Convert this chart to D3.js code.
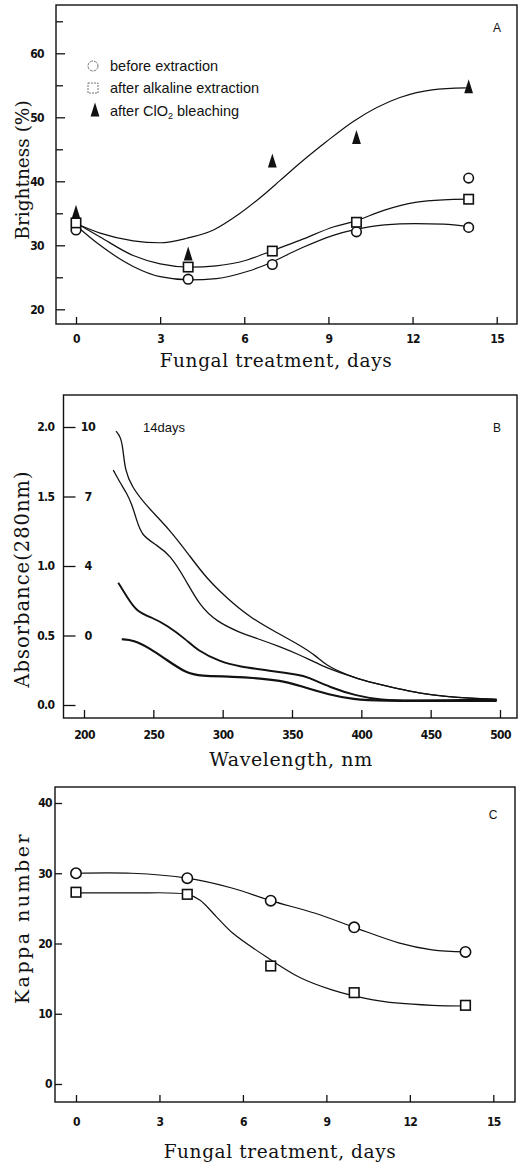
<!DOCTYPE html>
<html>
<head>
<meta charset="utf-8">
<script src="https://cdn.jsdelivr.net/npm/d3@7"></script>
<style>
  body { margin: 0; background: #fff; }
  svg { display: block; }
  .tick text { font-family: "Liberation Sans Narrow", "DejaVu Sans Condensed", sans-serif; font-weight: bold; font-size: 12px; letter-spacing: -0.6px; fill: #111; }
  .tick line { stroke: #111; stroke-width: 1.3; }
  .title { font-family: "DejaVu Serif", "Liberation Serif", serif; fill: #111; }
  .small { font-family: "Liberation Sans", Arial, sans-serif; fill: #111; }
</style>
</head>
<body>
<script>
// ---- panel A : brightness ----
var daysA = [0, 4, 7, 10, 14];
var beforeDaysA = [0, 4, 7, 10, 14, 14];
var beforeA = [32.4, 24.7, 27.0, 32.1, 32.8, 40.5];
var alkalineA = [33.5, 26.6, 29.1, 33.6, 37.2];
var bleachA = [35.0, 28.5, 43.0, 46.7, 54.6];
// fitted curves
var fitBeforeA = [[0,33.1],[0.86,30.0],[2.04,26.7],[3,25.1],[4.07,24.6],[5,24.8],[6.1,25.9],[6.9,27.2],[8,29.5],[9.2,31.6],[9.9,32.4],[11,33.2],[12.1,33.4],[13.1,33.3],[14,32.9]];
var fitAlkA = [[0,33.5],[0.86,31.3],[2.04,28.4],[3,27.1],[4.07,26.6],[5,26.8],[6.1,27.7],[6.9,29.0],[8,30.8],[9.2,32.9],[9.9,33.7],[11,35.5],[12.1,36.7],[13.1,37.1],[14,37.2]];
var fitBleachA = [[0,33.4],[0.86,31.9],[2.04,30.7],[3,30.4],[3.95,31.1],[4.9,32.4],[5.85,35.0],[6.8,38.3],[7.27,40.1],[8,42.9],[8.9,46.1],[9.9,49.4],[11.55,53.1],[12.7,54.3],[13.9,54.6]];
var dayTicks = [0, 3, 6, 9, 12, 15];
var brightTicks = [20, 30, 40, 50, 60];
var brightMinor = [25, 35, 45, 55, 65];
var legendA = ["before extraction", "after alkaline extraction", "after ClO"];

// ---- panel B : absorbance spectra ----
var spec10 = [[223.1,1.97],[226.5,1.93],[228.3,1.83],[229.6,1.69],[234.4,1.57],[245.2,1.43],[262,1.26],[276.4,1.07],[288.5,0.91],[302.9,0.77],[319.7,0.63],[339,0.52],[355.8,0.43],[367.8,0.35],[373.8,0.29],[389.4,0.216],[403.9,0.168],[425.4,0.12],[442.3,0.084],[461.5,0.06],[478.4,0.048],[497.6,0.041]];
var spec7 = [[221.1,1.69],[226,1.60],[230.7,1.525],[234.3,1.45],[238,1.33],[241.5,1.22],[252.4,1.15],[262,1.08],[272.8,0.91],[283.7,0.71],[295.7,0.60],[312.5,0.52],[324.5,0.48],[341.3,0.42],[355.8,0.36],[372.6,0.276],[389.4,0.216],[403.9,0.168],[425.4,0.12],[442.3,0.084],[461.5,0.06],[478.4,0.048],[497.6,0.041]];
var spec4 = [[224.7,0.88],[230.8,0.78],[238,0.67],[248.8,0.63],[259.6,0.576],[274,0.468],[281.3,0.396],[298.1,0.31],[312.5,0.276],[331.8,0.25],[355.8,0.216],[360.6,0.204],[377.4,0.127],[396.6,0.065],[413.5,0.036],[437.5,0.031],[461.5,0.036],[497.6,0.036]];
var spec0 = [[227.2,0.473],[235.6,0.468],[247.6,0.408],[259.6,0.324],[274,0.228],[283.7,0.209],[307.7,0.204],[326.9,0.192],[346.2,0.168],[355.8,0.137],[377.4,0.072],[394.2,0.041],[413.5,0.029],[461.5,0.029],[497.6,0.029]];
var specLabels = ["10", "7", "4", "0"];
var specLabelAt = [2.0, 1.5, 1.0, 0.5];
var wlTicks = [200, 250, 300, 350, 400, 450, 500];
var absTicks = [0.0, 0.5, 1.0, 1.5, 2.0];

// ---- panel C : kappa number ----
var daysC = [0, 4, 7, 10, 14];
var kappaBefore = [30.0, 29.3, 26.1, 22.3, 18.8];
var kappaAlk = [27.3, 27.0, 16.8, 13.0, 11.2];
var fitKappaBefore = [[0,30.0],[2,30.0],[4,29.3],[5.6,27.9],[7,26.1],[8.6,24.3],[10,22.3],[11.6,20.1],[12.8,19.1],[14,18.8]];
var fitKappaAlk = [[0,27.2],[2,27.2],[4,27.0],[4.45,26.2],[5.05,23.8],[5.63,21.5],[6.84,18.1],[8.03,15.2],[9.2,13.4],[10.4,12.2],[11.6,11.5],[12.8,11.2],[14,11.1]];
var kappaTicks = [0, 10, 20, 30, 40];

var W = 525, H = 1164;
var svg = d3.select("body").append("svg").attr("width", W).attr("height", H);

function frame(x0, y0, x1, y1) {
  svg.append("rect").attr("x", x0).attr("y", y0).attr("width", x1 - x0).attr("height", y1 - y0)
    .attr("fill", "none").attr("stroke", "#111").attr("stroke-width", 1.4);
}

function circles(g, xs, ys, x, y, r) {
  g.selectAll(null).data(xs).enter().append("circle")
    .attr("cx", function(d) { return x(d); })
    .attr("cy", function(d, i) { return y(ys[i]); })
    .attr("r", r).attr("fill", "#fff").attr("stroke", "#111").attr("stroke-width", 1.6);
}
function squares(g, xs, ys, x, y, s) {
  g.selectAll(null).data(xs).enter().append("rect")
    .attr("x", function(d) { return x(d) - s / 2; })
    .attr("y", function(d, i) { return y(ys[i]) - s / 2; })
    .attr("width", s).attr("height", s).attr("fill", "#fff").attr("stroke", "#111").attr("stroke-width", 1.6);
}
var triPath = "M0,-8.5L4.4,5.5L-4.4,5.5Z";
function triangles(g, xs, ys, x, y) {
  g.selectAll(null).data(xs).enter().append("path")
    .attr("d", triPath)
    .attr("transform", function(d, i) { return "translate(" + x(d) + "," + y(ys[i]) + ")"; })
    .attr("fill", "#111");
}
function fitLine(g, pts, x, y, w, curve) {
  g.append("path").datum(pts)
    .attr("d", d3.line().x(function(d) { return x(d[0]); }).y(function(d) { return y(d[1]); }).curve(curve || d3.curveMonotoneX))
    .attr("fill", "none").attr("stroke", "#111").attr("stroke-width", w || 1.2);
}
function noDomain(g) { g.select(".domain").remove(); }

// ================= Panel A =================
var xA = d3.scaleLinear().domain([0, 15]).range([76, 496.7]);
var yA = d3.scaleLinear().domain([20, 60]).range([309.3, 53.3]);
var gA = svg.append("g");
frame(56, 5, 517, 324);

gA.append("g").attr("transform", "translate(56,0)")
  .call(d3.axisLeft(yA).tickValues(brightTicks).tickSize(-9).tickPadding(12).tickFormat(d3.format("d")))
  .call(noDomain);
gA.append("g").attr("transform", "translate(56,0)")
  .call(d3.axisLeft(yA).tickValues(brightMinor).tickSize(-7).tickFormat(""))
  .call(noDomain);
gA.append("g").attr("transform", "translate(0,324)")
  .call(d3.axisBottom(xA).tickValues(dayTicks).tickSize(-7).tickPadding(10))
  .call(noDomain);

fitLine(gA, fitBleachA, xA, yA);
fitLine(gA, fitAlkA, xA, yA);
fitLine(gA, fitBeforeA, xA, yA);
triangles(gA, daysA, bleachA, xA, yA);
circles(gA, beforeDaysA, beforeA, xA, yA, 4.8);
squares(gA, daysA, alkalineA, xA, yA, 9.4);

// legend
var lg = svg.append("g");
lg.append("circle").attr("cx", 93).attr("cy", 66).attr("r", 5).attr("fill", "none").attr("stroke", "#777").attr("stroke-width", 1).attr("stroke-dasharray", "3,1");
lg.append("rect").attr("x", 88).attr("y", 83).attr("width", 10).attr("height", 10).attr("fill", "none").attr("stroke", "#777").attr("stroke-width", 1).attr("stroke-dasharray", "2,1");
lg.append("path").attr("d", triPath).attr("transform", "translate(95,111)").attr("fill", "#111");
lg.append("text").attr("class", "small").attr("x", 110).attr("y", 71).style("font-size", "14.5px").text(legendA[0]);
lg.append("text").attr("class", "small").attr("x", 110).attr("y", 93).style("font-size", "14.5px").text(legendA[1]);
var t3 = lg.append("text").attr("class", "small").attr("x", 110).attr("y", 116).style("font-size", "14.5px");
t3.append("tspan").text(legendA[2]);
t3.append("tspan").attr("dy", 3).style("font-size", "9px").text("2");
t3.append("tspan").attr("dy", -3).text(" bleaching");
svg.append("text").attr("class", "small").attr("x", 497).attr("y", 32).attr("text-anchor", "middle").style("font-size", "12px").text("A");

svg.append("text").attr("class", "title").attr("x", 276).attr("y", 367).attr("text-anchor", "middle")
  .style("font-size", "18.5px").style("letter-spacing", "0.6px").text("Fungal treatment, days");
svg.append("text").attr("class", "title").attr("transform", "translate(29,170) rotate(-90)").attr("text-anchor", "middle")
  .style("font-size", "18.5px").text("Brightness (%)");

// ================= Panel B =================
var xB = d3.scaleLinear().domain([200, 500]).range([84, 500]);
var yB = d3.scaleLinear().domain([0, 2]).range([705, 427]);
var gB = svg.append("g");
frame(63.5, 395, 517, 718);
gB.append("g").attr("transform", "translate(63.5,0)")
  .call(d3.axisLeft(yB).tickValues(absTicks).tickSize(-12).tickPadding(9).tickFormat(d3.format(".1f")))
  .call(noDomain);
gB.append("g").attr("transform", "translate(0,718)")
  .call(d3.axisBottom(xB).tickValues(wlTicks).tickSize(-8).tickPadding(12))
  .call(noDomain);

fitLine(gB, spec10, xB, yB, 1.3, d3.curveBasis);
fitLine(gB, spec7, xB, yB, 1.3, d3.curveBasis);
fitLine(gB, spec4, xB, yB, 1.9, d3.curveBasis);
fitLine(gB, spec0, xB, yB, 2.2, d3.curveBasis);

gB.selectAll(null).data(specLabels).enter().append("text")
  .attr("x", 88).attr("y", function(d, i) { return yB(specLabelAt[i]); })
  .attr("dy", "0.35em").attr("text-anchor", "middle")
  .style("font-family", "'Liberation Sans Narrow', 'DejaVu Sans Condensed', sans-serif")
  .style("font-weight", "bold").style("font-size", "12.5px").style("letter-spacing", "-0.6px").style("fill", "#111")
  .text(function(d) { return d; });
svg.append("text").attr("class", "small").attr("x", 143).attr("y", 432).style("font-size", "13px").text("14days");
svg.append("text").attr("class", "small").attr("x", 497).attr("y", 432).attr("text-anchor", "middle").style("font-size", "12px").text("B");

svg.append("text").attr("class", "title").attr("x", 291).attr("y", 766).attr("text-anchor", "middle")
  .style("font-size", "19px").style("letter-spacing", "0.6px").text("Wavelength, nm");
svg.append("text").attr("class", "title").attr("transform", "translate(29,579) rotate(-90)").attr("text-anchor", "middle")
  .style("font-size", "19.5px").style("letter-spacing", "1px").text("Absorbance(280nm)");

// ================= Panel C =================
var xC = d3.scaleLinear().domain([0, 15]).range([76, 493.3]);
var yC = d3.scaleLinear().domain([0, 40]).range([1084, 803]);
var gC = svg.append("g");
frame(55, 787, 515, 1102);
gC.append("g").attr("transform", "translate(55,0)")
  .call(d3.axisLeft(yC).tickValues(kappaTicks).tickSize(-7).tickPadding(3).tickFormat(d3.format("d")))
  .call(noDomain);
gC.append("g").attr("transform", "translate(0,1102)")
  .call(d3.axisBottom(xC).tickValues(dayTicks).tickSize(-7).tickPadding(15))
  .call(noDomain);

fitLine(gC, fitKappaBefore, xC, yC, 1.2, d3.curveCatmullRom.alpha(0.5));
fitLine(gC, fitKappaAlk, xC, yC, 1.2, d3.curveCatmullRom.alpha(0.5));
circles(gC, daysC, kappaBefore, xC, yC, 5.2);
squares(gC, daysC, kappaAlk, xC, yC, 9.6);
svg.append("text").attr("class", "small").attr("x", 493).attr("y", 819).attr("text-anchor", "middle").style("font-size", "12px").text("C");

svg.append("text").attr("class", "title").attr("x", 280).attr("y", 1158).attr("text-anchor", "middle")
  .style("font-size", "18.5px").style("letter-spacing", "0.6px").text("Fungal treatment, days");
svg.append("text").attr("class", "title").attr("transform", "translate(29,918) rotate(-90)").attr("text-anchor", "middle")
  .style("font-size", "19px").style("letter-spacing", "2.5px").text("Kappa number");
</script>
</body>
</html>
